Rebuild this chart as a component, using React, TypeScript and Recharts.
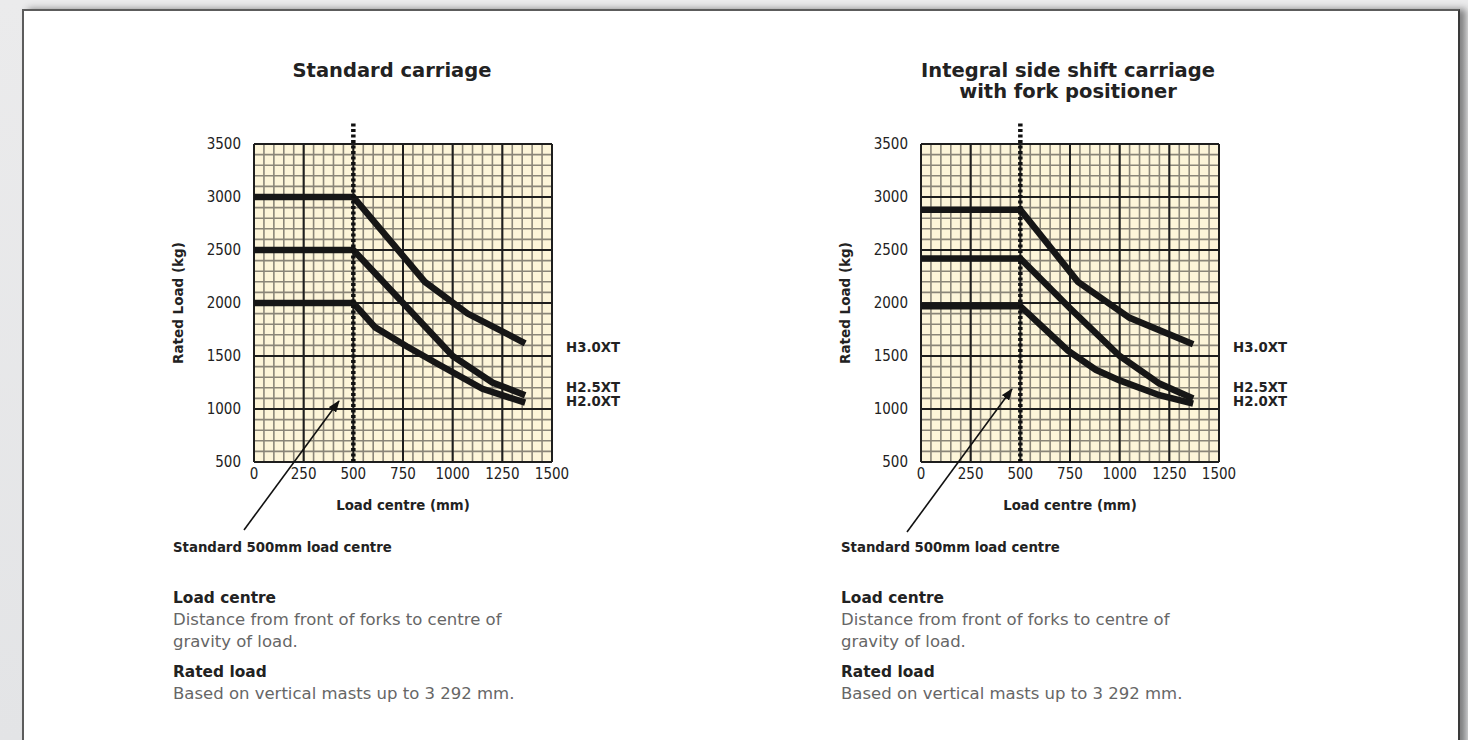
import { LineChart, Line, XAxis, YAxis, CartesianGrid, ReferenceLine, Label } from 'recharts';

type Point = { mm: number; load: number };

// axis labels
const xTickLabels = [0, 250, 500, 750, 1000, 1250, 1500];
const yTickLabels = [500, 1000, 1500, 2000, 2500, 3000, 3500];
// fine grid: 50 mm x 100 kg
const xGridSteps = Array.from({ length: 31 }, (_, i) => i * 50);
const yGridSteps = Array.from({ length: 31 }, (_, i) => 500 + i * 100);

const standardLoadCentre = 500;
const seriesNames = ['H3.0XT', 'H2.5XT', 'H2.0XT'];

// Standard carriage
const standardH30: Point[] = [
  { mm: 0, load: 3000 },
  { mm: 500, load: 3000 },
  { mm: 860, load: 2200 },
  { mm: 1075, load: 1900 },
  { mm: 1365, load: 1620 },
];
const standardH25: Point[] = [
  { mm: 0, load: 2500 },
  { mm: 500, load: 2500 },
  { mm: 1000, load: 1500 },
  { mm: 1200, load: 1250 },
  { mm: 1365, load: 1130 },
];
const standardH20: Point[] = [
  { mm: 0, load: 2000 },
  { mm: 500, load: 2000 },
  { mm: 610, load: 1770 },
  { mm: 770, load: 1590 },
  { mm: 930, load: 1420 },
  { mm: 1150, load: 1190 },
  { mm: 1365, load: 1060 },
];

// Integral side shift carriage with fork positioner
const sideShiftH30: Point[] = [
  { mm: 0, load: 2880 },
  { mm: 500, load: 2880 },
  { mm: 790, load: 2200 },
  { mm: 1050, load: 1860 },
  { mm: 1370, load: 1610 },
];
const sideShiftH25: Point[] = [
  { mm: 0, load: 2420 },
  { mm: 500, load: 2420 },
  { mm: 750, load: 1950 },
  { mm: 1000, load: 1500 },
  { mm: 1200, load: 1240 },
  { mm: 1370, load: 1100 },
];
const sideShiftH20: Point[] = [
  { mm: 0, load: 1970 },
  { mm: 500, load: 1970 },
  { mm: 740, load: 1550 },
  { mm: 880, load: 1370 },
  { mm: 1000, load: 1270 },
  { mm: 1200, load: 1130 },
  { mm: 1370, load: 1050 },
];

const boldFont = '"DejaVu Sans", "Liberation Sans", sans-serif';
const tickFont = '"Liberation Sans Narrow", "DejaVu Sans Condensed", "Liberation Sans", sans-serif';

function CapacityChart({ left, series }: { left: number; series: Point[][] }) {
  return (
    <div style={{ position: 'absolute', left, top: 110 }}>
      <LineChart width={470} height={410} margin={{ top: 34, right: 68, bottom: 8, left: 14 }}>
        <CartesianGrid stroke="#8a8578" strokeWidth={1.6} fill="#fdf5d9" />
        <XAxis
          type="number"
          dataKey="mm"
          domain={[0, 1500]}
          ticks={xGridSteps}
          interval={0}
          tickFormatter={(v: number) => (xTickLabels.includes(v) ? String(v) : '')}
          tickLine={false}
          axisLine={false}
          tickSize={6}
          tickMargin={0}
          height={50}
          tick={{ fontSize: 15, fontFamily: tickFont, fill: '#222' }}
        >
          <Label
            value="Load centre (mm)"
            position="insideBottom"
            offset={2}
            style={{ fontFamily: boldFont, fontWeight: 700, fontSize: 13.3, fill: '#222' }}
          />
        </XAxis>
        <YAxis
          type="number"
          domain={[500, 3500]}
          ticks={yGridSteps}
          interval={0}
          tickFormatter={(v: number) => (yTickLabels.includes(v) ? String(v) : '')}
          tickLine={false}
          axisLine={false}
          tickSize={6}
          tickMargin={7}
          width={90}
          tick={{ fontSize: 15, fontFamily: tickFont, fill: '#222' }}
        >
          <Label
            value="Rated Load (kg)"
            angle={-90}
            position="insideLeft"
            offset={14}
            style={{ textAnchor: 'middle', fontFamily: boldFont, fontWeight: 700, fontSize: 13.5, fill: '#222' }}
          />
        </YAxis>
        {xTickLabels.map((v) => (
          <ReferenceLine key={'vx' + v} x={v} stroke="#1e1e1e" strokeWidth={2} />
        ))}
        {yTickLabels.map((v) => (
          <ReferenceLine key={'hy' + v} y={v} stroke="#1e1e1e" strokeWidth={2} />
        ))}
        {series.map((pts, i) => (
          <Line
            key={seriesNames[i]}
            name={seriesNames[i]}
            data={pts}
            dataKey="load"
            type="linear"
            stroke="#161616"
            strokeWidth={6.5}
            dot={false}
            activeDot={false}
            isAnimationActive={false}
          />
        ))}
        <ReferenceLine
          segment={[
            { x: standardLoadCentre, y: 500 },
            { x: standardLoadCentre, y: 3700 },
          ]}
          ifOverflow="visible"
          stroke="#111"
          strokeWidth={4.5}
          strokeDasharray="3 2.5"
        />
      </LineChart>
    </div>
  );
}

const textAt = (left: number, top: number, extra: React.CSSProperties = {}): React.CSSProperties => ({
  position: 'absolute',
  left,
  top,
  whiteSpace: 'nowrap',
  ...extra,
});

const chartLabel: React.CSSProperties = {
  fontFamily: boldFont,
  fontWeight: 700,
  fontSize: 13.3,
  lineHeight: '16px',
  color: '#222',
};
const heading: React.CSSProperties = {
  fontFamily: boldFont,
  fontWeight: 700,
  fontSize: 15.4,
  lineHeight: '20px',
  color: '#222',
};
const body: React.CSSProperties = {
  fontFamily: boldFont,
  fontSize: 16.5,
  lineHeight: '22px',
  color: '#666',
};
const title: React.CSSProperties = {
  fontFamily: boldFont,
  fontWeight: 700,
  fontSize: 19.5,
  lineHeight: '21px',
  color: '#222',
  textAlign: 'center',
  width: 400,
};

function Notes({ left }: { left: number }) {
  return (
    <>
      <div style={textAt(left, 540, chartLabel)}>Standard 500mm load centre</div>
      <div style={textAt(left, 588, heading)}>Load centre</div>
      <div style={textAt(left, 609, body)}>Distance from front of forks to centre of</div>
      <div style={textAt(left, 631, body)}>gravity of load.</div>
      <div style={textAt(left, 662, heading)}>Rated load</div>
      <div style={textAt(left, 683, body)}>Based on vertical masts up to 3 292 mm.</div>
    </>
  );
}

function SeriesTags({ left }: { left: number }) {
  return (
    <>
      <div style={textAt(left, 340, chartLabel)}>{seriesNames[0]}</div>
      <div style={textAt(left, 380, chartLabel)}>{seriesNames[1]}</div>
      <div style={textAt(left, 394, chartLabel)}>{seriesNames[2]}</div>
    </>
  );
}

export default function App() {
  return (
    <div
      style={{
        position: 'absolute',
        left: 0,
        top: 0,
        width: 1468,
        height: 740,
        overflow: 'hidden',
        background: 'linear-gradient(#ebebec, #e3e4e6)',
      }}
    >
      <div
        style={{
          position: 'absolute',
          left: 22,
          top: 9,
          width: 1434,
          height: 760,
          background: '#fff',
          borderLeft: '2px solid #5c5c5c',
          borderTop: '2px solid #5c5c5c',
          borderRight: '2px solid #3a3a3a',
          boxShadow: '6px 0 7px rgba(0,0,0,0.45)',
        }}
      />

      <div style={textAt(192, 60, title)}>Standard carriage</div>
      <div style={textAt(868, 60, title)}>
        Integral side shift carriage
        <br />
        with fork positioner
      </div>

      <CapacityChart left={150} series={[standardH30, standardH25, standardH20]} />
      <CapacityChart left={817} series={[sideShiftH30, sideShiftH25, sideShiftH20]} />

      <SeriesTags left={566} />
      <SeriesTags left={1233} />

      <svg width={1468} height={740} style={{ position: 'absolute', left: 0, top: 0, pointerEvents: 'none' }}>
        <defs>
          <marker id="arrowHead" markerWidth="12" markerHeight="9" refX="11" refY="4.5" orient="auto" markerUnits="userSpaceOnUse">
            <path d="M0,0 L12,4.5 L0,9 z" fill="#111" />
          </marker>
        </defs>
        <line x1={244} y1={530} x2={339} y2={401} stroke="#111" strokeWidth={1.6} markerEnd="url(#arrowHead)" />
        <line x1={907} y1={532} x2={1012} y2={389} stroke="#111" strokeWidth={1.6} markerEnd="url(#arrowHead)" />
      </svg>

      <Notes left={173} />
      <Notes left={841} />
    </div>
  );
}
